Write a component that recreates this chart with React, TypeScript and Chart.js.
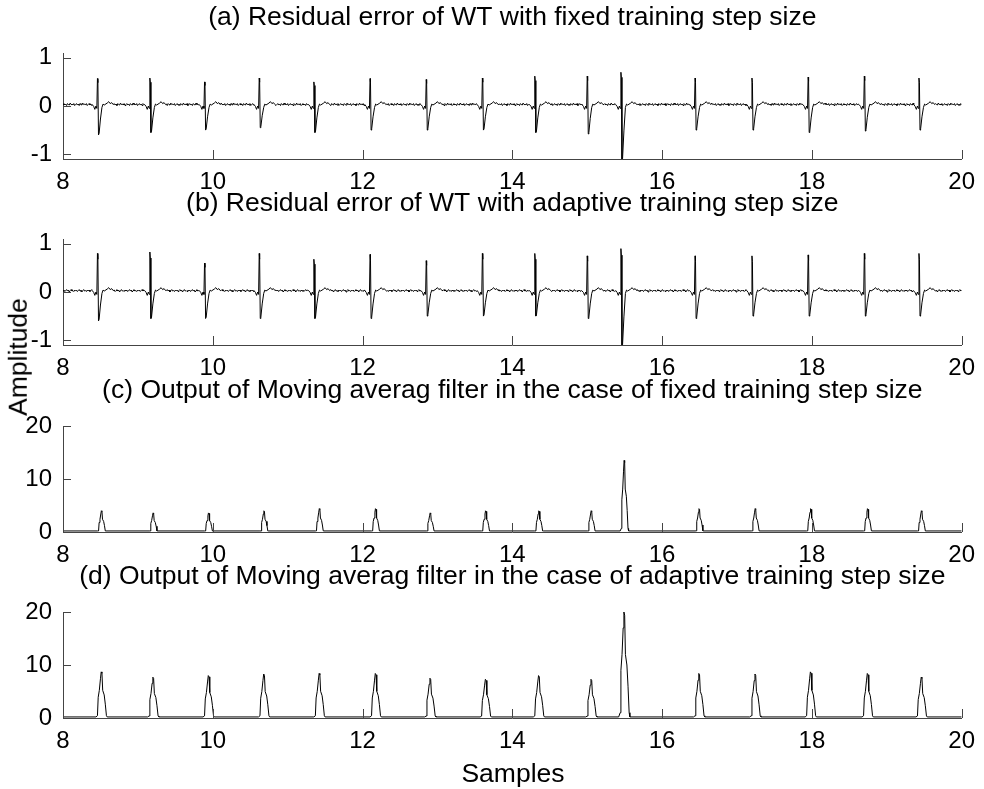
import React, { useEffect, useRef } from "react";
import { Chart, registerables } from "chart.js";

Chart.register(...registerables);

// ---------- data ----------
const xTicks = [8, 10, 12, 14, 16, 18, 20];
const residualTicks = [-1, 0, 1];
const maTicks = [0, 10, 20];

const panelTitles = [
  "(a) Residual error of WT with fixed training step size",
  "(b) Residual error of WT with adaptive training step size",
  "(c) Output of Moving averag filter in the case of fixed training step size",
  "(d) Output of Moving averag filter in the case of adaptive training step size",
];

// beat (spike) positions in the residual signals
const beatTimes = [8.46, 9.16, 9.89, 10.62, 11.35, 12.1, 12.85, 13.6, 14.3, 15.0, 15.45, 16.44, 17.2, 17.95, 18.7, 19.43];
// positive / negative spike amplitudes, panel (a)
const posA = [0.57, 0.58, 0.5, 0.58, 0.5, 0.57, 0.55, 0.58, 0.62, 0.62, 0.7, 0.58, 0.58, 0.6, 0.62, 0.58];
const negA = [-0.6, -0.55, -0.5, -0.45, -0.55, -0.5, -0.5, -0.5, -0.55, -0.58, -1.15, -0.5, -0.5, -0.55, -0.52, -0.5];
// positive / negative spike amplitudes, panel (b)
const posB = [0.8, 0.83, 0.6, 0.8, 0.68, 0.78, 0.65, 0.8, 0.8, 0.75, 0.9, 0.75, 0.75, 0.77, 0.8, 0.8];
const negB = [-0.6, -0.55, -0.55, -0.55, -0.55, -0.55, -0.5, -0.5, -0.5, -0.55, -1.15, -0.55, -0.5, -0.5, -0.5, -0.5];

// moving-average peaks
const peakTimes = [8.52, 9.21, 9.95, 10.69, 11.43, 12.18, 12.91, 13.65, 14.36, 15.06, 15.5, 16.5, 17.25, 17.99, 18.75, 19.47];
const heightsC = [4, 3.6, 3.6, 4, 4.4, 4.4, 3.6, 4, 4, 4, 13.5, 4.4, 4.4, 4.4, 4.4, 4];
const heightsD = [8.7, 7.7, 8, 8.3, 8.4, 8.4, 7.5, 7.3, 8, 7.3, 20, 8.4, 8.3, 8.7, 8.4, 7.7];

// small baseline ripple between beats
const rippleA = [0.03, 0.05, 0.02, 0.04, 0.01, 0.05, 0.03, 0.02, 0.06, 0.03, 0.04, 0.02, 0.05, 0.01];
const rippleB = [0.02, 0.04, 0.01, 0.03, 0.05, 0.02, 0.04, 0.0, 0.03, 0.05, 0.02, 0.03, 0.01, 0.04];

// one beat of the residual: [offset, base, weight of positive spike, weight of negative spike]
const residualShape = [
  [-0.07, 0.03, 0, 0],
  [-0.05, -0.01, 0, 0],
  [-0.035, -0.07, 0, 0],
  [-0.02, 0.0, 0, 0],
  [-0.008, -0.05, 0, 0],
  [0, 0, 1, 0],
  [0.006, 0, 0.85, 0],
  [0.014, 0, 0, 1],
  [0.022, 0, 0, 0.95],
  [0.04, 0, 0, 0.45],
  [0.06, -0.03, 0, 0],
  [0.075, 0.04, 0, 0],
  [0.09, 0.02, 0, 0],
  [0.13, 0.06, 0, 0],
  [0.15, 0.09, 0, 0],
  [0.17, 0.05, 0, 0],
  [0.19, 0.07, 0, 0],
  [0.21, 0.03, 0, 0],
];

// one peak of the moving average output: [offset, fraction of peak height]
const maShape = [
  [-0.08, 0],
  [-0.06, 0.05],
  [-0.05, 0.45],
  [-0.035, 0.6],
  [-0.02, 0.85],
  [-0.01, 1.0],
  [0, 0.97],
  [0.01, 0.6],
  [0.03, 0.5],
  [0.045, 0.3],
  [0.06, 0.05],
  [0.07, 0],
];

const maBaseline = 0.2;

// ---------- series construction ----------
function buildResidual(pos: number[], neg: number[], ripple: number[]) {
  const pts: { x: number; y: number }[] = [];
  for (let i = 0; ; i++) {
    const x = 8 + i * 0.012;
    if (x > 20) break;
    const inBeat = beatTimes.some((t) => x > t - 0.075 && x < t + 0.215);
    if (!inBeat) pts.push({ x, y: ripple[i % ripple.length] });
  }
  beatTimes.forEach((t, j) => {
    residualShape.forEach(([o, b, pw, nw]) => {
      pts.push({ x: t + o, y: b + pw * pos[j] + nw * neg[j] });
    });
  });
  pts.sort((a, b) => a.x - b.x);
  return pts;
}

function buildMA(heights: number[], widthScale: number) {
  const pts: { x: number; y: number }[] = [{ x: 8, y: maBaseline }];
  peakTimes.forEach((t, j) => {
    maShape.forEach(([o, f]) => {
      pts.push({ x: t + o * widthScale, y: Math.max(maBaseline, f * heights[j]) });
    });
  });
  pts.push({ x: 20, y: maBaseline });
  return pts;
}

const FONT = '"Liberation Sans", Arial, Helvetica, sans-serif';
const FS_TICK = 24;
const FS_TITLE = 26.5;
const AXIS = "#444";

const PLOT_H = 106;
const PAD_TOP = 50;
const XAXIS_H = 40;
const CANVAS_H = PAD_TOP + PLOT_H + XAXIS_H;
const plotTops = [53, 239, 426, 612];

const decor = {
  id: "panelDecor",
  afterDraw(chart: any) {
    const opts = chart.options.plugins.panelDecor;
    const { ctx, chartArea } = chart;
    const { left, right, top, bottom } = chartArea;
    ctx.save();
    ctx.strokeStyle = AXIS;
    ctx.lineWidth = 1;
    ctx.beginPath();
    chart.scales.x.ticks.forEach((t: any) => {
      const px = Math.round(chart.scales.x.getPixelForValue(t.value)) + 0.5;
      ctx.moveTo(px, bottom);
      ctx.lineTo(px, bottom - 9);
    });
    chart.scales.y.ticks.forEach((t: any) => {
      const py = Math.round(chart.scales.y.getPixelForValue(t.value)) + 0.5;
      ctx.moveTo(left, py);
      ctx.lineTo(left + 8, py);
    });
    ctx.stroke();
    ctx.fillStyle = "#000";
    ctx.font = `${FS_TITLE}px ${FONT}`;
    ctx.textAlign = "center";
    ctx.textBaseline = "middle";
    ctx.fillText(opts.title, (left + right) / 2, top - 35);
    ctx.restore();
  },
};

type PanelProps = {
  top: number;
  title: string;
  data: { x: number; y: number }[];
  yMin: number;
  yMax: number;
  yTicks: number[];
};

function Panel({ top, title, data, yMin, yMax, yTicks }: PanelProps) {
  const ref = useRef<HTMLCanvasElement | null>(null);
  useEffect(() => {
    if (!ref.current) return;
    const chart = new Chart(ref.current, {
      type: "line",
      data: {
        datasets: [
          {
            data,
            borderColor: "#000",
            borderWidth: 1,
            pointRadius: 0,
            tension: 0,
            fill: false,
          },
        ],
      },
      options: {
        animation: false,
        responsive: false,
        devicePixelRatio: 1,
        events: [],
        layout: { padding: { top: PAD_TOP, left: 0, right: 21, bottom: 0 } },
        plugins: {
          legend: { display: false },
          tooltip: { enabled: false },
          // @ts-ignore
          panelDecor: { title },
        },
        scales: {
          x: {
            type: "linear",
            min: 8,
            max: 20,
            afterBuildTicks: (s: any) => {
              s.ticks = xTicks.map((v) => ({ value: v }));
            },
            afterFit: (s: any) => {
              s.height = XAXIS_H;
            },
            grid: { display: false, drawTicks: false },
            border: { display: true, color: AXIS, width: 1 },
            ticks: { font: { family: FONT, size: FS_TICK }, color: "#000", padding: 9, maxRotation: 0, autoSkip: false },
          },
          y: {
            type: "linear",
            min: yMin,
            max: yMax,
            afterBuildTicks: (s: any) => {
              s.ticks = yTicks.map((v) => ({ value: v }));
            },
            afterFit: (s: any) => {
              s.width = 63;
            },
            grid: { display: false, drawTicks: false },
            border: { display: true, color: AXIS, width: 1 },
            ticks: { font: { family: FONT, size: FS_TICK }, color: "#000", padding: 11, autoSkip: false },
          },
        },
      },
      plugins: [decor],
    } as any);
    return () => chart.destroy();
  }, []);
  return (
    <canvas
      ref={ref}
      width={984}
      height={CANVAS_H}
      style={{ position: "absolute", left: 0, top: top - PAD_TOP, width: 984, height: CANVAS_H }}
    />
  );
}

export default function App() {
  const seriesA = buildResidual(posA, negA, rippleA);
  const seriesB = buildResidual(posB, negB, rippleB);
  const seriesC = buildMA(heightsC, 0.75);
  const seriesD = buildMA(heightsD, 1);
  return (
    <div style={{ position: "absolute", left: 0, top: 0, width: 984, height: 789, background: "#fff", overflow: "hidden" }}>
      <Panel top={plotTops[0]} title={panelTitles[0]} data={seriesA} yMin={-1.1} yMax={1.1} yTicks={residualTicks} />
      <Panel top={plotTops[1]} title={panelTitles[1]} data={seriesB} yMin={-1.1} yMax={1.1} yTicks={residualTicks} />
      <Panel top={plotTops[2]} title={panelTitles[2]} data={seriesC} yMin={0} yMax={20} yTicks={maTicks} />
      <Panel top={plotTops[3]} title={panelTitles[3]} data={seriesD} yMin={0} yMax={20} yTicks={maTicks} />
      <div
        style={{
          position: "absolute",
          left: 18,
          top: 357,
          transform: "translate(-50%, -50%) rotate(-90deg)",
          fontFamily: FONT,
          fontSize: FS_TITLE,
          whiteSpace: "nowrap",
          lineHeight: 1,
        }}
      >
        Amplitude
      </div>
      <div
        style={{
          position: "absolute",
          left: 513,
          top: 773,
          transform: "translate(-50%, -50%)",
          fontFamily: FONT,
          fontSize: FS_TITLE,
          whiteSpace: "nowrap",
          lineHeight: 1,
        }}
      >
        Samples
      </div>
    </div>
  );
}
